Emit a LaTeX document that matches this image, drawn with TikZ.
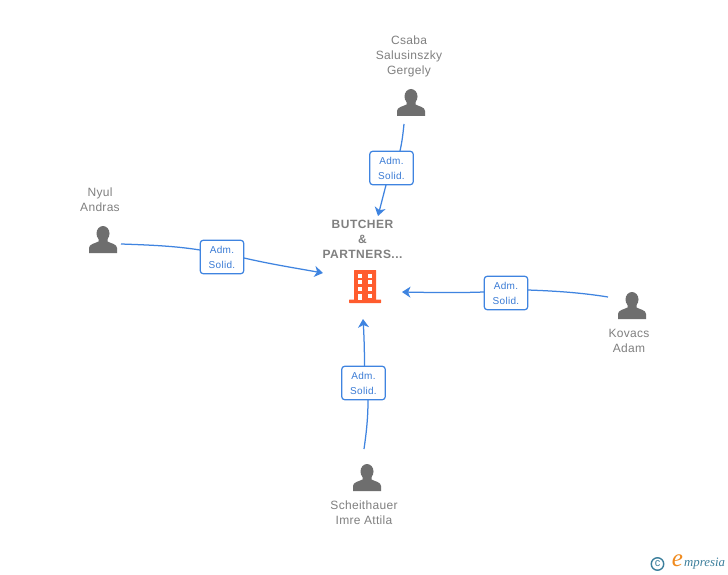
\documentclass[tikz,border=0pt]{standalone}
\usepackage{fontspec}
\setmainfont{Liberation Sans}
\newfontfamily\logofont{Liberation Serif}
\newfontfamily\spacedfont[LetterSpace=4]{Liberation Sans}
\newfontfamily\whofont[LetterSpace=2.5]{Liberation Sans}
\newfontfamily\rolefont[LetterSpace=3]{Liberation Sans}
\usetikzlibrary{arrows.meta}
\definecolor{linkblue}{HTML}{3F84E0}
\definecolor{boxtext}{HTML}{3A7BD5}
\definecolor{persongray}{HTML}{6E6E6E}
\definecolor{labelgray}{HTML}{808080}
\definecolor{bldorange}{HTML}{FF5C2E}
\definecolor{logoteal}{HTML}{3C7F9C}
\definecolor{logoorange}{HTML}{F08A1D}
\tikzset{
  role/.style={draw=linkblue,line width=1.2pt,rounded corners=3pt,fill=white,minimum width=43.5pt,minimum height=33.5pt,inner sep=0pt,
    align=center,text=boxtext,font=\fontsize{10}{15}\selectfont\rolefont},
  link/.style={draw=linkblue,line width=1.25pt},
  linkhead/.style={link,-{Stealth[length=8.5pt,width=11pt,inset=2.5pt]}},
  who/.style={text=labelgray,align=center,font=\fontsize{12}{15}\selectfont\whofont,inner sep=0pt},
  person/.pic={
    \fill[persongray] (0,-6.5) ellipse (6.5 and 7.5);
    \fill[persongray] (-14,13) -- (-14,8) .. controls (-14,4) and (-8,3.5) .. (-4.5,1.5) -- (-4.5,-2) -- (4.5,-2) -- (4.5,1.5) .. controls (8,3.5) and (14,4) .. (14,8) -- (14,13) -- cycle;
  }
}
\begin{document}
\begin{tikzpicture}[x=1pt,y=-1pt]
\useasboundingbox[fill=white] (0,0) rectangle (728,575);
% persons
\pic at (411,103) {person};
\pic at (103,240) {person};
\pic at (632,306) {person};
\pic at (367,478) {person};
\node[who] (csaba) at (409,56) {Csaba\\Salusinszky\\Gergely};
\node[who] (nyul) at (100,199.5) {Nyul\\Andras};
\node[who] (kovacs) at (629,341) {Kovacs\\Adam};
\node[who] (imre) at (364,513) {Scheithauer\\Imre Attila};
\node[text=labelgray,align=center,inner sep=0pt,font=\fontsize{12}{15}\selectfont\spacedfont\bfseries] (butcher) at (362.5,239.5) {BUTCHER\\\&\\PARTNERS...};
% building
\fill[bldorange,rounded corners=0.5pt] (354,270) rectangle (376,301);
\fill[bldorange,rounded corners=0.5pt] (349,299.5) rectangle (381,303);
\foreach \yy in {273.5,280,287}{
  \fill[white] (357.5,\yy) rectangle (362,\yy+4);
  \fill[white] (367.5,\yy) rectangle (372,\yy+4);
}
\fill[white] (367.5,293.5) rectangle (372,297.5);
\fill[white] (357.5,293.5) rectangle (362,300);
% boxes
\node[role] (b1) at (391.5,168) {Adm.\\Solid.};
\node[role] (b2) at (222,257) {Adm.\\Solid.};
\node[role] (b3) at (506,293) {Adm.\\Solid.};
\node[role] (b4) at (363.5,383) {Adm.\\Solid.};
% connector ends
\coordinate (p1) at (404,124);
\coordinate (p2) at (121,244);
\coordinate (p3) at (608,297);
\coordinate (p4) at (364,449);
\coordinate (t1) at (378,216);
\coordinate (t2) at (323,273);
\coordinate (t3) at (402,292);
\coordinate (t4) at (363,319);
% connectors
\draw[link] (p1) .. controls (403,134) and (402,142) .. (400,151);
\draw[linkhead] (386,185) -- (t1);
\draw[link] (p2) .. controls (150,245) and (175,246) .. (200,250);
\draw[linkhead] (244,258) .. controls (270,264) and (295,268) .. (t2);
\draw[link] (p3) .. controls (580,292.5) and (555,291) .. (528,290);
\draw[linkhead] (484,292) .. controls (455,293) and (430,292.5) .. (t3);
\draw[link] (p4) .. controls (366,435) and (368,420) .. (368,400);
\draw[linkhead] (364.5,366) .. controls (364.5,350) and (364,335) .. (t4);
% logo
\node[draw=logoteal,line width=1.4pt,circle,inner sep=0pt,minimum size=12.5pt,text=logoteal,font=\fontsize{11}{11}\selectfont] (copy) at (657.5,564) {c};
\node[inner sep=0pt,text=logoorange,font=\fontsize{25}{25}\selectfont\logofont\itshape] (logoe) at (677.5,561) {e};
\node[inner sep=0pt,anchor=west,text=logoteal,font=\fontsize{12.8}{13}\selectfont\logofont\itshape] (logot) at (684,564) {mpresia};
\end{tikzpicture}
\end{document}
